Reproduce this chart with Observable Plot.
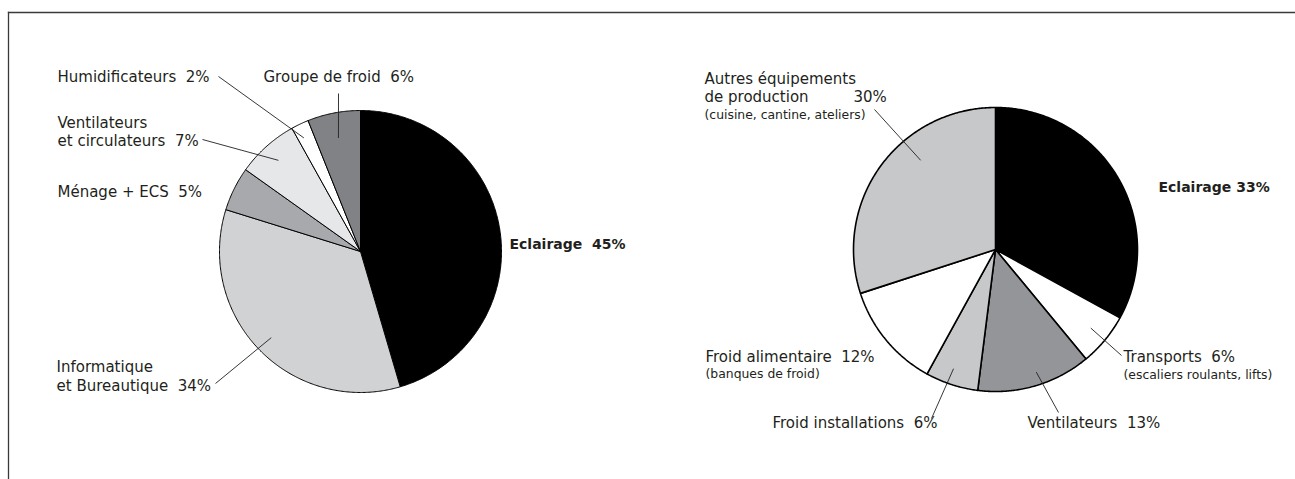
<!DOCTYPE html>
<html>
<head>
<meta charset="utf-8">
<script src="https://cdn.jsdelivr.net/npm/d3@7"></script>
<script src="https://cdn.jsdelivr.net/npm/@observablehq/plot@0.6"></script>
<style>
  body { margin: 0; background: #fff; }
  svg text { white-space: pre; }
</style>
</head>
<body>
<div id="chart"></div>
<script>
// ---------- DATA ----------
// Left pie (offices)
const officeCategories = ["Eclairage", "Informatique\net Bureautique", "Ménage + ECS", "Ventilateurs\net circulateurs", "Humidificateurs", "Groupe de froid"];
const officeValues = [45, 34, 5, 7, 2, 6];
const officeNotes = ["", "", "", "", "", ""];
const officeShades = ["#000000", "#d1d2d4", "#a7a9ac", "#e6e7e8", "#ffffff", "#808285"];

// Right pie (shops)
const shopCategories = ["Eclairage", "Transports", "Ventilateurs", "Froid installations", "Froid alimentaire", "Autres équipements\nde production"];
const shopValues = [33, 6, 13, 6, 12, 30];
const shopNotes = ["", "(escaliers roulants, lifts)", "", "", "(banques de froid)", "(cuisine, cantine, ateliers)"];
const shopShades = ["#000000", "#ffffff", "#939598", "#c7c8ca", "#ffffff", "#c7c8ca"];

// ---------- LAYOUT ----------
const W = 1295, H = 479;
const U = 141;                       // pixels per unit
const OX = 360, OY = 251;            // unit origin in pixels
const ux = px => (px - OX) / U;
const uy = py => (py - OY) / U;

const pies = [
  {
    key: "office", cats: officeCategories, vals: officeValues, notes: officeNotes, shades: officeShades,
    cx: 360, cy: 251, r: 141, strokeWidth: 1,
    labels: [
      {x: 509, base: [248], bold: true, sep: "\u00a0 "},
      {x: 56, base: [371, 390], leader: {from: [215, 383], angle: 226, r: 0.88}},
      {x: 57, base: [196]},
      {x: 57, base: [127, 145], leader: {from: [202, 139], angle: 318, r: 0.87}},
      {x: 57, base: [81], leader: {from: [218, 76], angle: 333.5, r: 0.9}},
      {x: 263, base: [81], leader: {from: [338, 93], angle: 349, r: 0.82}}
    ]
  },
  {
    key: "shop", cats: shopCategories, vals: shopValues, notes: shopNotes, shades: shopShades,
    cx: 995, cy: 249, r: 142, strokeWidth: 1.6,
    labels: [
      {x: 1158, base: [191], bold: true, sep: " "},
      {x: 1123, base: [361], noteBase: 378, leader: {from: [1121, 355], angle: 129.5, r: 0.87}},
      {x: 1027, base: [427], leader: {from: [1058, 412], angle: 161.6, r: 0.91}},
      {x: 772, base: [427], leader: {from: [931, 418], angle: 199.4, r: 0.89}},
      {x: 705, base: [361], noteBase: 377},
      {x: 704, base: [83, 101], pctX: 853, noteBase: 118, leader: {from: [874, 109], angle: 320, r: 0.82}}
    ]
  }
];

// ---------- BUILD MARK DATA ----------
const slicePts = [];   // polygon vertices per slice
const textRows = [];
const leaders = [];

for (const p of pies) {
  const arcs = d3.pie().sort(null).value(v => v)(p.vals);
  const c = {x: ux(p.cx), y: uy(p.cy)};
  const R = p.r / U;
  const at = (a, rr) => ({x: c.x + rr * Math.sin(a), y: c.y - rr * Math.cos(a)});
  arcs.forEach((a, i) => {
    const key = p.key + "-" + i;
    const n = Math.max(2, Math.ceil((a.endAngle - a.startAngle) / (Math.PI / 360)));
    slicePts.push({pie: p.key, key, shade: p.shades[i], ...c});
    for (let k = 0; k <= n; ++k) {
      const t = a.startAngle + (a.endAngle - a.startAngle) * k / n;
      slicePts.push({pie: p.key, key, shade: p.shades[i], ...at(t, R)});
    }
    slicePts.push({pie: p.key, key, shade: p.shades[i], ...c});

    const L = p.labels[i];
    const lines = p.cats[i].split("\n");
    const pct = p.vals[i] + "%";
    const sep = L.sep ?? "\u00a0 ";
    lines.forEach((line, j) => {
      const last = j === lines.length - 1;
      const txt = last && !L.pctX ? line + sep + pct : line;
      textRows.push({kind: L.bold ? "bold" : "main", text: txt, x: ux(L.x), y: uy(L.base[j])});
    });
    if (L.pctX) textRows.push({kind: "main", text: pct, x: ux(L.pctX), y: uy(L.base[L.base.length - 1])});
    if (p.notes[i]) textRows.push({kind: "note", text: p.notes[i], x: ux(L.x), y: uy(L.noteBase)});
    if (L.leader) {
      const e = at(L.leader.angle * Math.PI / 180, L.leader.r * R);
      leaders.push({x1: ux(L.leader.from[0]), y1: uy(L.leader.from[1]), x2: e.x, y2: e.y});
    }
  });
}

const ink = "#231f20";
const font = "'DejaVu Sans', sans-serif";

const chart = Plot.plot({
  width: W,
  height: H,
  margin: 0,
  x: {domain: [ux(0), ux(W)], range: [0, W], axis: null},
  y: {domain: [uy(0), uy(H)], range: [0, H], axis: null},
  color: {type: "identity"},
  style: {fontFamily: font, background: "#fff"},
  marks: [
    Plot.frame({anchor: "top", insetLeft: 8, insetTop: 12, stroke: "#3a3a3a", strokeWidth: 1.3}),
    Plot.frame({anchor: "left", insetLeft: 8, insetTop: 12, stroke: "#3a3a3a", strokeWidth: 1.3}),
    ...pies.map(p => Plot.line(slicePts.filter(d => d.pie === p.key), {
      x: "x", y: "y", z: "key", fill: "shade", stroke: "#000", strokeWidth: p.strokeWidth,
      strokeLinejoin: "miter", curve: "linear"
    })),
    Plot.link(leaders, {x1: "x1", y1: "y1", x2: "x2", y2: "y2", stroke: ink, strokeWidth: 0.9}),
    Plot.text(textRows.filter(d => d.kind === "main"), {
      x: "x", y: "y", text: "text", textAnchor: "start", lineAnchor: "bottom",
      fontSize: 15, fill: ink
    }),
    Plot.text(textRows.filter(d => d.kind === "note"), {
      x: "x", y: "y", text: "text", textAnchor: "start", lineAnchor: "bottom",
      fontSize: 12.4, fill: ink
    }),
    Plot.text(textRows.filter(d => d.kind === "bold"), {
      x: "x", y: "y", text: "text", textAnchor: "start", lineAnchor: "bottom",
      fontSize: 14, fontWeight: "bold", fill: ink
    })
  ]
});
document.getElementById("chart").appendChild(chart);
</script>
</body>
</html>
